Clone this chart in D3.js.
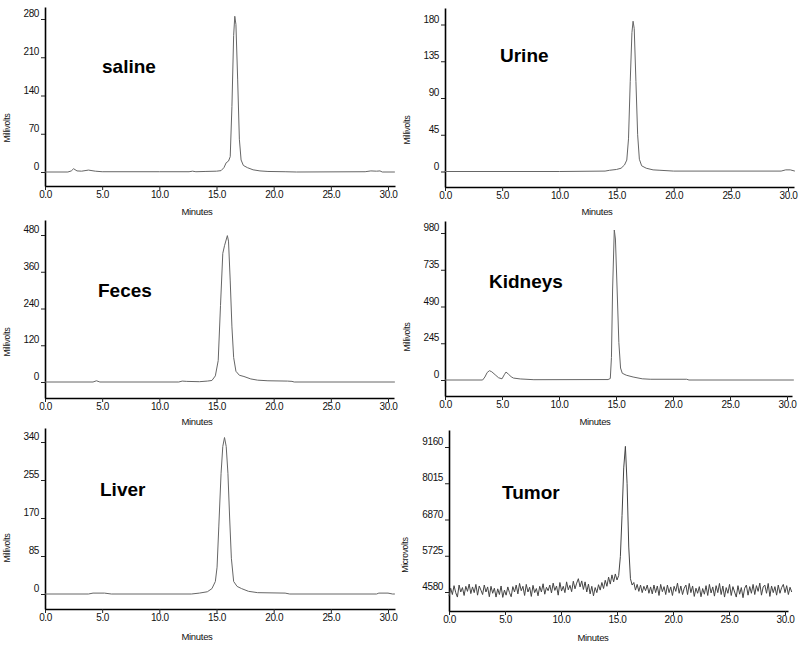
<!DOCTYPE html>
<html>
<head>
<meta charset="utf-8">
<script src="https://cdn.jsdelivr.net/npm/d3@7"></script>
<style>
  body { margin: 0; background: #fff; }
  svg { display: block; }
  .tick text { font-family: "Liberation Sans Narrow", "Arial Narrow", "Liberation Sans", sans-serif; font-size: 10px; fill: #111; letter-spacing: -0.4px; }
  .unit { font-family: "Liberation Sans Narrow", "Arial Narrow", "Liberation Sans", sans-serif; fill: #111; letter-spacing: -0.3px; }
  .title { font-family: "Liberation Sans", Arial, sans-serif; font-weight: bold; font-size: 19px; fill: #000; }
</style>
</head>
<body>
<div id="chart"></div>
<script>
const salineData = [[0,0],[2.0,0],[2.3,2],[2.5,6],[2.8,2],[3.2,1.5],[3.8,3.5],[4.4,1.5],[5.0,0.5],[10,0.5],[12.6,0.5],[12.9,1.5],
  [13.2,0.5],[14,1],[15,1.5],[15.4,2.5],[15.65,8],[15.85,17],[16.05,20],[16.2,28],[16.35,120],[16.5,250],[16.6,285],
  [16.7,270],[16.85,170],[17.0,60],[17.15,22],[17.35,12],[17.7,8],[18.2,4],[18.8,2],[19.5,1],[21,0.5],[22,0],[28,0.5],
  [28.5,2],[29,1.5],[29.3,2],[29.5,0],[30.6,0]];

const urineData = [[0,0],[10,0],[14.0,0.5],[14.4,1.5],[15.0,2.5],[15.4,4],[15.7,8],[15.9,14],[16.05,40],[16.2,110],
  [16.35,170],[16.45,184],[16.55,175],[16.7,110],[16.85,45],[17.0,15],[17.2,7],[17.6,4],[18.2,2],[18.8,1.5],[20,0.5],
  [29.4,0.5],[29.8,2],[30.2,2],[30.6,0.5]];

const fecesData = [[0,0],[4.2,0],[4.5,4],[4.8,0],[11.7,0],[12,3],[12.4,2],[13.5,1],[14.2,3],[14.6,5],[14.9,20],
  [15.15,70],[15.35,250],[15.55,420],[15.7,445],[15.95,478],[16.05,460],[16.2,330],[16.35,180],[16.5,80],[16.7,35],
  [17,22],[17.4,18],[18,10],[18.6,6],[19.5,4],[21.2,3],[21.6,2],[21.8,0],[30.6,0]];

const kidneysData = [[0,0],[3.3,0],[3.5,20],[3.7,50],[3.9,62],[4.1,55],[4.4,35],[4.7,15],[5.0,8],[5.2,35],[5.35,53],
  [5.55,40],[5.8,22],[6.0,13],[6.6,7],[7.8,2],[14.3,3],[14.5,10],[14.6,150],[14.7,600],[14.85,1000],[14.95,940],
  [15.1,600],[15.25,250],[15.4,80],[15.55,45],[15.9,32],[16.5,20],[17.3,8],[18,5],[21.2,5],[21.4,0],[30.6,0]];

const liverData = [[0,0],[3.8,0],[4.2,2],[5.2,2],[5.8,0],[12.8,0],[13.5,2],[14.2,5],[14.6,12],[14.9,28],[15.05,60],
  [15.2,150],[15.4,270],[15.55,330],[15.7,350],[15.85,330],[16.0,270],[16.15,170],[16.3,80],[16.5,28],[16.8,17],
  [17.2,12],[17.8,6],[18.6,3],[21,2],[21.4,0],[29,0],[29.2,2],[30,2],[30.4,0],[30.6,0]];

// Tumeur : signal échantillonné toutes les 0.15 min (microvolts)
const tumorStep = 0.15;
const tumorValues = [
  4450,4700,4500,4780,4560,4420,4800,4580,4720,4470,4760,4600,4830,4530,4740,4560,4820,4480,4770,4640,
  4500,4800,4580,4740,4430,4760,4540,4700,4420,4680,4500,4770,4410,4640,4480,4740,4560,4430,4750,4580,
  4800,4520,4850,4620,4760,4470,4820,4580,4730,4440,4790,4560,4690,4460,4760,4580,4840,4510,4730,4620,
  4800,4550,4860,4630,4770,4480,4880,4610,4760,4560,4900,4650,4790,4590,4920,4680,4860,5000,4740,4930,
  4660,4900,4580,4830,4520,4760,4460,4720,4560,4810,4640,4880,4690,4950,4760,5050,4830,5120,4900,5150,
  4960,5100,5700,7000,8500,9180,8000,6000,5000,4800,4880,4640,4820,4600,4800,4560,4760,4620,4800,4540,
  4740,4520,4800,4560,4770,4470,4820,4590,4750,4500,4800,4560,4740,4470,4760,4600,4860,4540,4770,4500,
  4700,4800,4500,4850,4560,4770,4440,4700,4540,4750,4430,4690,4510,4780,4470,4820,4550,4740,4450,4780,
  4560,4850,4500,4770,4420,4720,4540,4820,4470,4750,4580,4420,4780,4510,4720,4400,4700,4800,4480,4750,
  4540,4820,4500,4780,4600,4860,4480,4740,4800,4540,4850,4440,4770,4560,4750,4480,4800,4540,4720,4820,
  4560,4780,4500,4730,4580];
const tumorData = tumorValues.map((v, i) => [i * tumorStep, v]);

// Graduations
const xTicks = [0, 5, 10, 15, 20, 25, 30];
const salineTicks = [0, 70, 140, 210, 280];
const urineTicks = [0, 45, 90, 135, 180];
const fecesTicks = [0, 120, 240, 360, 480];
const kidneysTicks = [0, 245, 490, 735, 980];
const liverTicks = [0, 85, 170, 255, 340];
const tumorTicks = [4580, 5725, 6870, 8015, 9160];

const titles = ["saline", "Urine", "Feces", "Kidneys", "Liver", "Tumor"];

// Mise en page de chaque panneau (pixels)
const panels = [
  { data: salineData, ticks: salineTicks, x0: 45, x30: 388, xEnd: 395, axisY: 186, yTop: 7, loPx: 172, hiPx: 19,
    unit: "Millivolts", ux: 7, uy: 128, mx: 197, my: 215, tx: 102, ty: 73, color: "#666" },
  { data: urineData, ticks: urineTicks, x0: 445, x30: 788, xEnd: 794, axisY: 187, yTop: 8, loPx: 171.5, hiPx: 24.5,
    unit: "Millivolts", ux: 407, uy: 130, mx: 597, my: 215, tx: 500, ty: 62, color: "#666" },
  { data: fecesData, ticks: fecesTicks, x0: 45, x30: 388, xEnd: 394, axisY: 398, yTop: 220, loPx: 382, hiPx: 235,
    unit: "Millivolts", ux: 7, uy: 342, mx: 197, my: 425, tx: 98, ty: 297, color: "#666" },
  { data: kidneysData, ticks: kidneysTicks, x0: 445, x30: 787, xEnd: 792, axisY: 396, yTop: 221, loPx: 380, hiPx: 233,
    unit: "Millivolts", ux: 407, uy: 337, mx: 595, my: 425, tx: 489, ty: 288, color: "#666" },
  { data: liverData, ticks: liverTicks, x0: 45, x30: 388, xEnd: 395, axisY: 609, yTop: 428, loPx: 594, hiPx: 442,
    unit: "Millivolts", ux: 7, uy: 548, mx: 197, my: 640, tx: 100, ty: 496, color: "#666" },
  { data: tumorData, ticks: tumorTicks, x0: 449, x30: 785, xEnd: 788, axisY: 611, yTop: 430, loPx: 592, hiPx: 447,
    unit: "Microvolts", ux: 405, uy: 555, mx: 593, my: 641, tx: 502, ty: 499, color: "#444" }
];

const width = 800;
const height = 646;

const svg = d3.select("#chart")
  .append("svg")
  .attr("width", width)
  .attr("height", height);

panels.forEach((p, i) => {
  const t = p.ticks;

  // Échelle X : 0 et 30 minutes ancrés, prolongée jusqu'au bout de l'axe
  const x = d3.scaleLinear().domain([0, 30]).range([p.x0, p.x30]);
  x.domain([0, x.invert(p.xEnd)]).range([p.x0, p.xEnd]);

  // Échelle Y : première et dernière graduation ancrées
  const y = d3.scaleLinear().domain([t[0], t[t.length - 1]]).range([p.loPx, p.hiPx]);
  y.domain([y.invert(p.axisY), y.invert(p.yTop)]).range([p.axisY, p.yTop]);

  const g = svg.append("g");

  // Axe X
  const gx = g.append("g")
    .attr("transform", `translate(0,${p.axisY})`)
    .call(d3.axisBottom(x).tickValues(xTicks).tickFormat(d3.format(".1f"))
      .tickSize(4).tickSizeOuter(0).tickPadding(1));
  gx.select(".domain").attr("stroke", "#000").attr("stroke-width", 1.6);
  gx.selectAll(".tick line").attr("stroke", "#222");

  // Axe Y
  const gy = g.append("g")
    .attr("transform", `translate(${p.x0},0)`)
    .call(d3.axisLeft(y).tickValues(t).tickFormat(d3.format("d"))
      .tickSize(4).tickSizeOuter(0).tickPadding(2));
  gy.select(".domain").attr("stroke", "#000").attr("stroke-width", 1.6);
  gy.selectAll(".tick line").attr("stroke", "#222");
  gy.selectAll(".tick text").attr("dy", -2.5);

  // Tracé
  const line = d3.line()
    .x(d => x(d[0]))
    .y(d => y(d[1]));

  g.append("path")
    .datum(p.data)
    .attr("fill", "none")
    .attr("stroke", p.color)
    .attr("stroke-width", 1)
    .attr("stroke-linejoin", "round")
    .attr("d", line);

  // Libellés
  g.append("text")
    .attr("class", "unit")
    .attr("transform", `translate(${p.ux},${p.uy}) rotate(-90)`)
    .attr("text-anchor", "middle")
    .attr("dy", "0.35em")
    .attr("font-size", 8.5)
    .text(p.unit);

  g.append("text")
    .attr("class", "unit")
    .attr("x", p.mx)
    .attr("y", p.my)
    .attr("text-anchor", "middle")
    .attr("font-size", 9.5)
    .text("Minutes");

  g.append("text")
    .attr("class", "title")
    .attr("x", p.tx)
    .attr("y", p.ty)
    .text(titles[i]);
});
</script>
</body>
</html>
